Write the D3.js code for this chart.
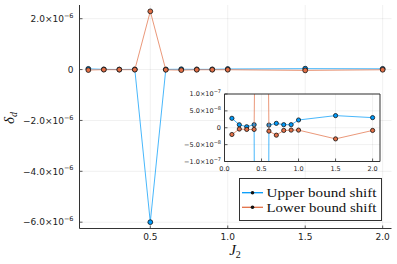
<!DOCTYPE html>
<html>
<head>
<meta charset="utf-8">
<script src="https://cdn.jsdelivr.net/npm/d3@7"></script>
<style>
  body { margin: 0; background: #fff; }
  svg { display: block; }
  .tick-label { font-family: "DejaVu Sans", sans-serif; fill: #222; }
  .math { font-family: "Liberation Serif", "DejaVu Serif", serif; font-style: italic; fill: #111; }
</style>
</head>
<body>
<svg width="397" height="264"></svg>
<script>
// data
var J2 = [0.1, 0.2, 0.3, 0.4, 0.5, 0.6, 0.7, 0.8, 0.9, 1.0, 1.5, 2.0];
var upperShift = [2.8e-8, 8.9e-9, 3e-9, 9e-9, -6.0e-6, 8e-9, 1.3e-8, 9e-9, 9e-9, 2.3e-8, 3.6e-8, 3.0e-8];
var lowerShift = [-2.0e-8, -3.9e-9, -5e-9, -5e-9, 2.29e-6, -1e-8, -2.2e-8, -8e-9, -7e-9, -7e-9, -3.3e-8, -8e-9];
var seriesNames = ["Upper bound shift", "Lower bound shift"];
var seriesColors = ["#009AFA", "#E26F46"];

var mainXTicks = [0.5, 1.0, 1.5, 2.0];
var mainYTicks = [-6e-6, -4e-6, -2e-6, 0, 2e-6];
var insetXTicks = [0.0, 0.5, 1.0, 1.5, 2.0];
var insetYTicks = [-1e-7, -5e-8, 0, 5e-8, 1e-7];
var insetXLim = [0, 2.1];
var insetYLim = [-1e-7, 1e-7];

var svg = d3.select("svg");
var series = [upperShift, lowerShift];

function padded(lo, hi) {
  var p = (hi - lo) * 0.03;
  return [lo - p, hi + p];
}

// tick label like 2.0×10^-6
function sciLabel(sel, v, fs, sup) {
  if (v === 0) { sel.text("0"); return; }
  var e = Math.floor(Math.log10(Math.abs(v)) + 1e-9);
  var m = v / Math.pow(10, e);
  var txt = (m < 0 ? "\u2212" : "") + Math.abs(m).toFixed(1) + "\u00d710";
  sel.append("tspan").text(txt);
  sel.append("tspan").attr("dy", -fs * 0.45).style("font-size", sup + "px")
    .text("\u2212" + Math.abs(e));
}

function drawPanel(g, x, y, opts) {
  var x0 = x.range()[0], x1 = x.range()[1];
  var y0 = y.range()[0], y1 = y.range()[1];

  if (opts.fill) {
    g.append("rect").attr("x", x0).attr("y", y1).attr("width", x1 - x0).attr("height", y0 - y1)
      .attr("fill", "#fff");
  }

  // grid
  g.selectAll(null).data(opts.xTicks).enter().append("line")
    .attr("x1", function(d) { return x(d); }).attr("x2", function(d) { return x(d); })
    .attr("y1", y0).attr("y2", y1)
    .attr("stroke", "#000").attr("stroke-opacity", 0.1).attr("stroke-width", 0.6);
  g.selectAll(null).data(opts.yTicks).enter().append("line")
    .attr("y1", function(d) { return y(d); }).attr("y2", function(d) { return y(d); })
    .attr("x1", x0).attr("x2", x1)
    .attr("stroke", "#000").attr("stroke-opacity", 0.1).attr("stroke-width", 0.6);

  var clipId = "clip" + opts.id;
  g.append("clipPath").attr("id", clipId).append("rect")
    .attr("x", x0).attr("y", y1).attr("width", x1 - x0).attr("height", y0 - y1);

  var plot = g.append("g").attr("clip-path", "url(#" + clipId + ")");
  var line = d3.line().x(function(d) { return x(d[0]); }).y(function(d) { return y(d[1]); });

  series.forEach(function(vals, i) {
    var pts = J2.map(function(j, k) { return [j, vals[k]]; });
    plot.append("path").datum(pts).attr("d", line)
      .attr("fill", "none").attr("stroke", seriesColors[i])
      .attr("stroke-width", 0.85).attr("stroke-opacity", 0.85);
    plot.selectAll(null).data(pts).enter().append("circle")
      .attr("cx", function(d) { return x(d[0]); })
      .attr("cy", function(d) { return y(d[1]); })
      .attr("r", opts.r)
      .attr("fill", seriesColors[i]).attr("stroke", "#111").attr("stroke-width", 0.8);
  });

  // frame
  var axisColor = "#333";
  g.append("line").attr("x1", x0).attr("x2", x0).attr("y1", y0).attr("y2", y1)
    .attr("stroke", axisColor).attr("stroke-width", 1);
  g.append("line").attr("x1", x0).attr("x2", x1).attr("y1", y0).attr("y2", y0)
    .attr("stroke", axisColor).attr("stroke-width", 1);
  if (opts.box) {
    g.append("line").attr("x1", x1).attr("x2", x1).attr("y1", y0).attr("y2", y1)
      .attr("stroke", axisColor).attr("stroke-width", 1);
    g.append("line").attr("x1", x0).attr("x2", x1).attr("y1", y1).attr("y2", y1)
      .attr("stroke", axisColor).attr("stroke-width", 1);
  }

  // tick marks
  g.selectAll(null).data(opts.xTicks).enter().append("line")
    .attr("x1", function(d) { return x(d); }).attr("x2", function(d) { return x(d); })
    .attr("y1", y0).attr("y2", y0 - 3).attr("stroke", axisColor).attr("stroke-width", 0.8);
  g.selectAll(null).data(opts.yTicks).enter().append("line")
    .attr("y1", function(d) { return y(d); }).attr("y2", function(d) { return y(d); })
    .attr("x1", x0).attr("x2", x0 + 3).attr("stroke", axisColor).attr("stroke-width", 0.8);

  // tick labels
  g.selectAll(null).data(opts.xTicks).enter().append("text")
    .attr("class", "tick-label")
    .attr("x", function(d) { return x(d); })
    .attr("y", y0 + opts.xLabelDy)
    .attr("text-anchor", "middle")
    .style("font-size", opts.fs + "px")
    .text(function(d) { return d.toFixed(1); });

  g.selectAll(null).data(opts.yTicks).enter().append("text")
    .attr("class", "tick-label")
    .attr("x", x0 - opts.yLabelDx)
    .attr("y", function(d) { return y(d) + opts.fs * 0.36; })
    .attr("text-anchor", "end")
    .style("font-size", opts.fs + "px")
    .each(function(d) { sciLabel(d3.select(this), d, opts.fs, opts.sup); });
}

// main panel
var allVals = upperShift.concat(lowerShift);
var xMain = d3.scaleLinear().domain(padded(d3.min(J2), d3.max(J2))).range([79.5, 391.5]);
var yMain = d3.scaleLinear().domain(padded(d3.min(allVals), d3.max(allVals))).range([228.5, 5]);

drawPanel(svg.append("g"), xMain, yMain, {
  id: "main", xTicks: mainXTicks, yTicks: mainYTicks, r: 2.4,
  fs: 9, sup: 6.5, xLabelDy: 11, yLabelDx: 6, box: false, fill: false
});

// axis labels
var yl = svg.append("text").attr("class", "math")
  .attr("transform", "translate(14,118) rotate(-90)")
  .attr("text-anchor", "middle").style("font-size", "15px");
yl.append("tspan").text("\u03b4");
yl.append("tspan").attr("dy", 3).style("font-size", "10px").text("d");

var xl = svg.append("text").attr("class", "math")
  .attr("x", 235).attr("y", 254.5)
  .attr("text-anchor", "middle").style("font-size", "15px");
xl.append("tspan").text("J");
xl.append("tspan").attr("dy", 3).style("font-size", "10px").style("font-style", "normal").text("2");

// inset panel
var xIn = d3.scaleLinear().domain(insetXLim).range([224.5, 380]);
var yIn = d3.scaleLinear().domain(insetYLim).range([161.5, 94]);

drawPanel(svg.append("g"), xIn, yIn, {
  id: "inset", xTicks: insetXTicks, yTicks: insetYTicks, r: 2.1,
  fs: 6.5, sup: 5, xLabelDy: 9, yLabelDx: 3.5, box: true, fill: true
});

// legend
var leg = svg.append("g");
leg.append("rect").attr("x", 239.5).attr("y", 178.5).attr("width", 142).attr("height", 42)
  .attr("fill", "#fff").attr("stroke", "#333").attr("stroke-width", 1);
seriesNames.forEach(function(name, i) {
  var cy = 192.7 + i * 14.6;
  leg.append("line").attr("x1", 242).attr("x2", 263).attr("y1", cy).attr("y2", cy)
    .attr("stroke", seriesColors[i]).attr("stroke-width", 1.3);
  leg.append("circle").attr("cx", 252.5).attr("cy", cy).attr("r", 1.8).attr("fill", "#111");
  leg.append("text").attr("x", 266.5).attr("y", cy + 4.3)
    .attr("textLength", 110).attr("lengthAdjust", "spacingAndGlyphs")
    .style("font-family", "'Liberation Serif', serif").style("font-size", "13.5px")
    .attr("fill", "#111").text(name);
});
</script>
</body>
</html>
